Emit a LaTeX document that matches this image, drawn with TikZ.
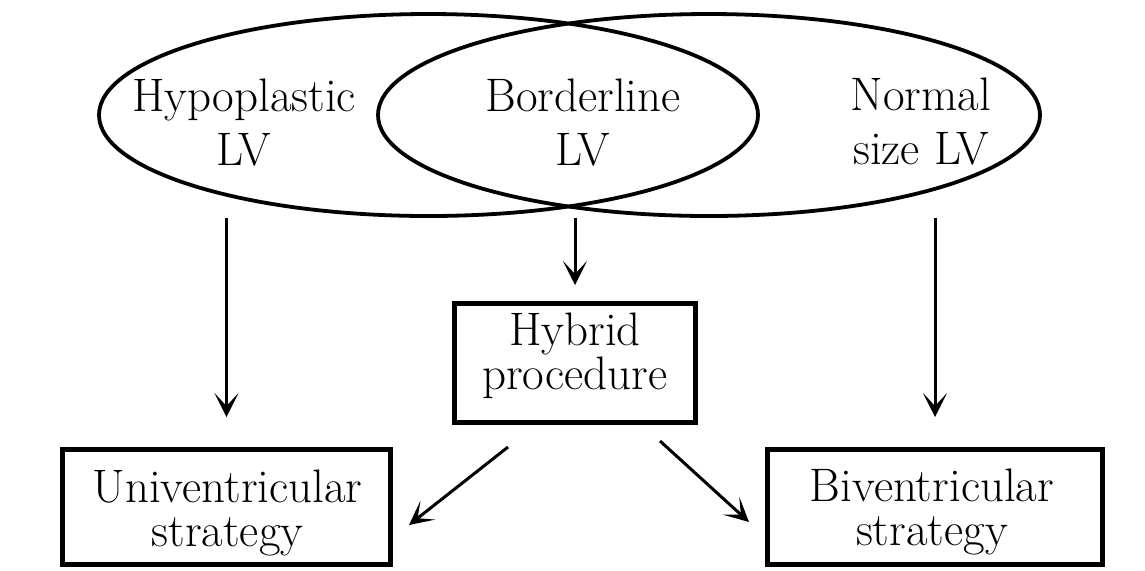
\documentclass[tikz,border=0pt]{standalone}
\usetikzlibrary{shapes.geometric,arrows.meta}
\begin{document}
\begin{tikzpicture}[x=0.5pt,y=-0.5pt]
	\tikzstyle{every node}=[];
	\tikzstyle{lvset}=[ellipse,draw,line width=1.9pt,inner sep=0pt,minimum height=101pt];
	\tikzstyle{lvtext}=[align=center,font=\fontsize{23.5}{27}\selectfont];
	\tikzstyle{stratbox}=[rectangle,draw,line width=2.5pt,inner sep=0pt];
	\tikzstyle{boxtext}=[align=center,font=\fontsize{23.5}{22}\selectfont];
	\tikzstyle{flow}=[line width=1.5pt,-{Stealth[length=12pt,width=12pt,inset=6.5pt]}];
	\useasboundingbox (0,0) rectangle (1145,570);
	\path (428.5,115) node[lvset,minimum width=329.5pt] (leftset) {};
	\path (709,115) node[lvset,minimum width=331pt] (rightset) {};
	\path (244,123) node[lvtext] (hypo) {Hypoplastic\\LV};
	\path (583,123) node[lvtext] (border) {Borderline\\LV};
	\path (921,122) node[lvtext] (normal) {Normal\\size LV};
	\path (575,363) node[stratbox,minimum width=120.5pt,minimum height=59.5pt] (hybrid) {};
	\path (226.5,507) node[stratbox,minimum width=164pt,minimum height=57.5pt] (univ) {};
	\path (935,507) node[stratbox,minimum width=167.5pt,minimum height=57.5pt] (biv) {};
	\path (575,356) node[boxtext] (hybridtext) {Hybrid\\procedure};
	\path (227.5,513) node[boxtext] (univtext) {Univentricular\\strategy};
	\path (932,512) node[boxtext] (bivtext) {Biventricular\\strategy};
	\draw[flow,shorten >=15pt] (univ.north |- leftset.south) -- (univ.north);
	\draw[flow,shorten >=8pt] (hybrid.north |- leftset.south) -- (hybrid.north);
	\draw[flow,shorten >=15pt] (biv.north |- rightset.south) -- (biv.north);
	\draw[flow] ([shift={(-67,22)}]hybrid.south) -- ([shift={(16,78)}]univ.north east);
	\draw[flow] ([shift={(85,16)}]hybrid.south) -- ([shift={(-16,75)}]biv.north west);
\end{tikzpicture}
\end{document}
